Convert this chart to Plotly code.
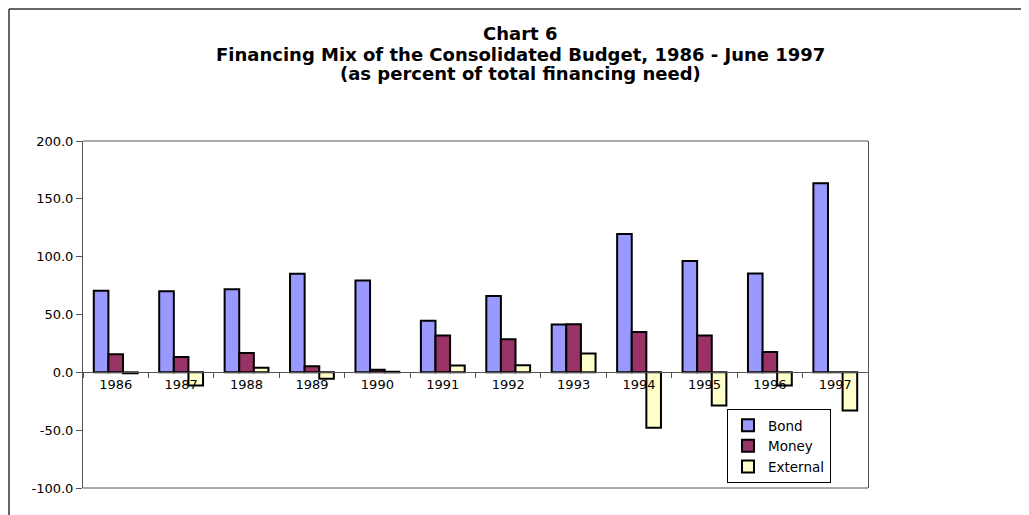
import plotly.graph_objects as go

years = ["1986", "1987", "1988", "1989", "1990", "1991",
         "1992", "1993", "1994", "1995", "1996", "1997"]
bond = [70.5, 70.2, 71.9, 85.2, 79.4, 44.7, 65.9, 41.3, 119.6, 96.2, 85.5, 163.5]
money = [15.6, 13.3, 16.8, 5.2, 2.3, 31.8, 28.6, 41.6, 34.9, 31.8, 17.6, 0.0]
external = [-0.8, -11.3, 4.0, -5.5, 0.5, 5.8, 6.1, 16.2, -47.9, -28.6, -11.3, -32.9]

y_ticks = [-100, -50, 0, 50, 100, 150, 200]
y_ticktext = ["-100.0", "-50.0", "0.0", "50.0", "100.0", "150.0", "200.0"]

title_lines = ["Chart 6",
               "Financing Mix of the Consolidated Budget, 1986 - June 1997",
               "(as percent of total financing need)"]

font = "DejaVu Sans, Arial, sans-serif"
OFF = 8  # page body margin
W, H = 1029 - OFF, 515 - OFF
# plot area in screen px
L, R, T, B = 83 - OFF, 868 - OFF, 141 - OFF, 488 - OFF


def px_x(x):
    return (x - OFF - L) / (R - L)


def px_y(y):
    return (B - (y - OFF)) / (B - T)


fig = go.Figure()
for name, vals, col in [("Bond", bond, "#9999FF"),
                        ("Money", money, "#993366"),
                        ("External", external, "#FFFFCC")]:
    fig.add_trace(go.Bar(x=years, y=vals, name=name,
                         marker=dict(color=col, line=dict(color="black", width=2))))

# title as three lines, tight spacing like the original
for line, yc in zip(title_lines, [34, 54, 74]):
    fig.add_annotation(text="<b>%s</b>" % line, xref="paper", yref="paper",
                       x=px_x(520), y=px_y(yc), xanchor="center", yanchor="middle",
                       showarrow=False,
                       font=dict(family=font, size=18, color="black"))

fig.update_layout(
    width=W, height=H,
    margin=dict(l=L, r=W - R, t=T, b=H - B),
    paper_bgcolor="white", plot_bgcolor="white",
    barmode="group", bargap=0.33, bargroupgap=0,
    font=dict(family=font, size=12, color="black"),
    legend=dict(
        x=px_x(727), y=px_y(409), xanchor="left", yanchor="top",
        bgcolor="white", bordercolor="black", borderwidth=1,
        font=dict(family=font, size=13.5, color="black"),
        itemwidth=30, tracegroupgap=0,
    ),
    xaxis=dict(
        anchor="free", position=1 / 3,
        showline=True, linecolor="#555", linewidth=1,
        ticks="outside", tickson="boundaries", ticklen=5, tickcolor="#555",
        showgrid=False, zeroline=False,
        tickfont=dict(size=13),
    ),
    yaxis=dict(
        range=[-100, 200], tickvals=y_ticks, ticktext=y_ticktext,
        showline=True, linecolor="#555", linewidth=1, mirror=True,
        ticks="outside", ticklen=6, tickcolor="#555",
        showgrid=False, zeroline=False,
        tickfont=dict(size=13),
    ),
    shapes=[
        dict(type="line", xref="paper", yref="paper", x0=0, x1=1, y0=1, y1=1,
             line=dict(color="#555", width=1)),
        dict(type="line", xref="paper", yref="paper", x0=0, x1=1, y0=0, y1=0,
             line=dict(color="#555", width=1)),
        # outer chart frame (top and left edges visible)
        dict(type="line", xref="paper", yref="paper",
             x0=px_x(9), x1=px_x(1040), y0=px_y(9), y1=px_y(9),
             line=dict(color="#333", width=1.5)),
        dict(type="line", xref="paper", yref="paper",
             x0=px_x(9), x1=px_x(9), y0=px_y(9), y1=px_y(530),
             line=dict(color="#333", width=1.5)),
    ],
)

fig.write_html("out.html")
